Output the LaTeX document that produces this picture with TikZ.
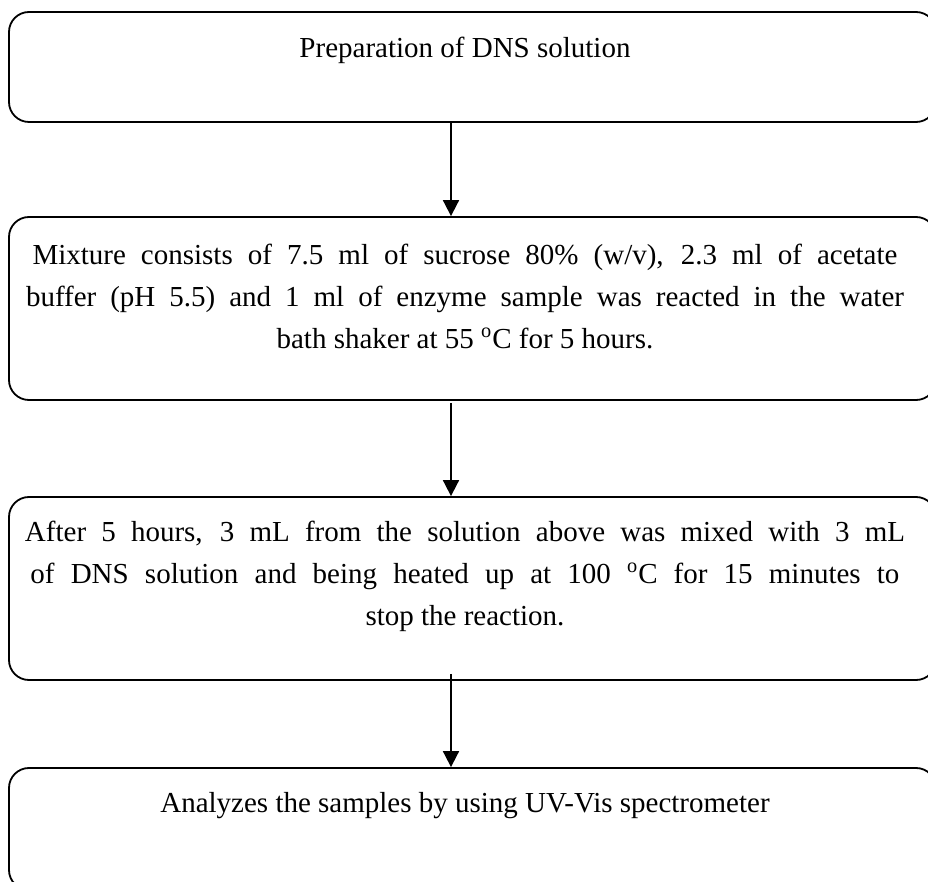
\documentclass[tikz,border=0pt]{standalone}
\usepackage{fontspec}
\setmainfont{Liberation Serif}
\usetikzlibrary{arrows.meta,positioning}
\newcommand{\spreadline}[2]{\makebox[#1][s]{#2}}
\tikzset{%
	stepbox/.style  = {draw, rectangle, rounded corners=10pt, line width=0.9pt, minimum width=463.5pt},
	steptext/.style = {align=center, font=\fontsize{14.5}{21}\selectfont},
	arrow/.style    = {line width=0.9pt, -{Triangle[width=8pt,length=8pt]}},
}
\begin{document}
\begin{tikzpicture}[x=0.5pt,y=-0.5pt]
	\useasboundingbox (0,0) rectangle (928,882);
	\clip (0,0) rectangle (928,882);
	% boxes
	\node[stepbox, minimum height=55pt] (prep) at (472.5,67) {};
	\node[stepbox, minimum height=91.5pt] (mix) at (472.5,308.5) {};
	\node[stepbox, minimum height=91.5pt] (heat) at (472.5,588.5) {};
	\node[stepbox, minimum height=61pt] (uv) at (472.5,829) {};
	% texts
	\node[steptext] (preptext) at (465,50) {Preparation of DNS solution};
	\node[steptext] (mixtext) at (465,296) {\spreadline{432.5pt}{Mixture consists of 7.5 ml of sucrose 80\% (w/v), 2.3 ml of acetate}\\
		\spreadline{439pt}{buffer (pH 5.5) and 1 ml of enzyme sample was reacted in the water}\\
		bath shaker at 55 \textsuperscript{o}C for 5 hours.};
	\node[steptext] (heattext) at (465,576) {\spreadline{440pt}{After 5 hours, 3 mL from the solution above was mixed with 3 mL}\\
		\spreadline{434.5pt}{of DNS solution and being heated up at 100 \textsuperscript{o}C for 15 minutes to}\\
		stop the reaction.};
	\node[steptext] (uvtext) at (465,806) {Analyzes the samples by using UV-Vis spectrometer};
	% arrows
	\coordinate (col) at (451,0);
	\draw[arrow] (prep.south -| col) -- (mix.north -| col);
	\draw[arrow] ([yshift=-1pt]mix.south -| col) -- (heat.north -| col);
	\draw[arrow] ([yshift=3.5pt]heat.south -| col) -- (uv.north -| col);
\end{tikzpicture}
\end{document}
